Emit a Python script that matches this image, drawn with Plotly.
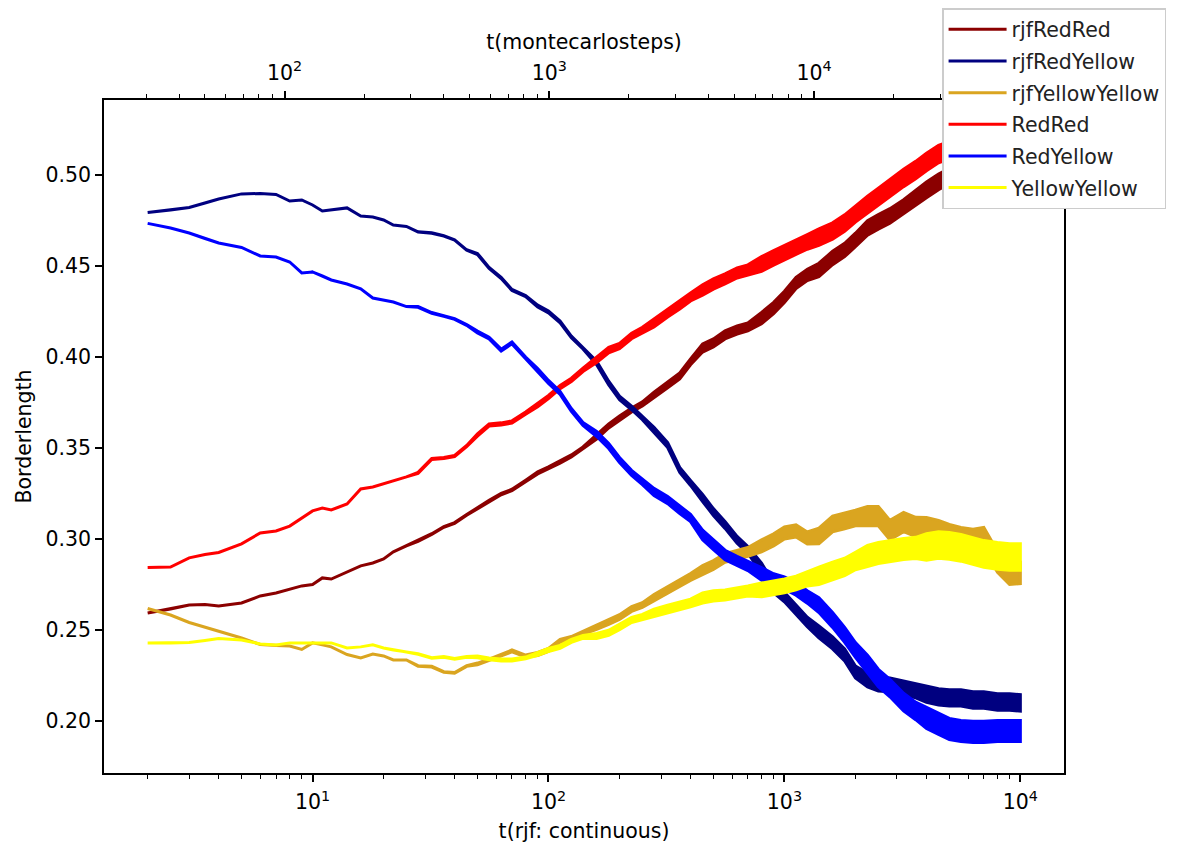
import plotly.graph_objects as go

# time grid (rjf continuous time), read positions along the log x axis
t = [2, 2.5, 3, 3.5, 4, 5, 6, 7, 8, 9, 10, 11, 12, 14, 16, 18, 20, 22, 25, 28,
     32, 36, 40, 45, 50, 56, 63, 70, 80, 90, 100, 112, 125, 140, 160, 180, 200,
     225, 250, 280, 320, 360, 400, 450, 500, 560, 630, 700, 800, 900, 1000, 1120,
     1250, 1400, 1600, 1800, 2000, 2250, 2500, 2800, 3200, 3600, 4000, 4500, 5000,
     5600, 6300, 7000, 8000, 9000, 10000]

# series centres (Borderlength)
rjfRedRed = [0.2593, 0.2615, 0.2637, 0.2640, 0.2632, 0.2648, 0.2687, 0.2703, 0.2725, 0.2742,
             0.2750, 0.2786, 0.2780, 0.2819, 0.2852, 0.2868, 0.2890, 0.2929, 0.2962, 0.2989,
             0.3027, 0.3066, 0.3088, 0.3132, 0.3170, 0.3209, 0.3247, 0.3269, 0.3319, 0.3363,
             0.3390, 0.3423, 0.3456, 0.3500, 0.3560, 0.3621, 0.3665, 0.3709, 0.3742, 0.3791,
             0.3846, 0.3896, 0.3973, 0.4049, 0.4077, 0.4121, 0.4148, 0.4165, 0.4214, 0.4269,
             0.4330, 0.4407, 0.4451, 0.4478, 0.4544, 0.4588, 0.4643, 0.4709, 0.4742, 0.4775,
             0.4824, 0.4874, 0.4918, 0.4962, 0.4995, 0.5027, 0.5055, 0.5077, 0.5099, 0.5115,
             0.5126]
rjfRedYellow = [0.4794, 0.4808, 0.4821, 0.4846, 0.4868, 0.4896, 0.4898, 0.4893, 0.4857, 0.4863,
                0.4835, 0.4802, 0.4808, 0.4819, 0.4775, 0.4769, 0.4753, 0.4725, 0.4717, 0.4687,
                0.4681, 0.4665, 0.4643, 0.4588, 0.4566, 0.4489, 0.4434, 0.4368, 0.4335, 0.4280,
                0.4247, 0.4192, 0.4110, 0.4049, 0.3967, 0.3857, 0.3775, 0.3720, 0.3665, 0.3599,
                0.3516, 0.3379, 0.3308, 0.3225, 0.3148, 0.3077, 0.2995, 0.2940, 0.2841, 0.2731,
                0.2681, 0.2610, 0.2544, 0.2489, 0.2429, 0.2363, 0.2269, 0.2225, 0.2203, 0.2198,
                0.2181, 0.2165, 0.2148, 0.2132, 0.2127, 0.2127, 0.2115, 0.2115, 0.2104, 0.2104,
                0.2099]
rjfYellowYellow = [0.2618, 0.2582, 0.2541, 0.2516, 0.2495, 0.2456, 0.2420, 0.2415, 0.2412, 0.2393,
                   0.2429, 0.2418, 0.2407, 0.2365, 0.2346, 0.2368, 0.2357, 0.2335, 0.2335, 0.2302,
                   0.2298, 0.2269, 0.2264, 0.2302, 0.2313, 0.2335, 0.2363, 0.2385, 0.2357, 0.2368,
                   0.2390, 0.2440, 0.2456, 0.2484, 0.2516, 0.2544, 0.2571, 0.2615, 0.2637, 0.2676,
                   0.2720, 0.2758, 0.2791, 0.2830, 0.2857, 0.2896, 0.2912, 0.2929, 0.2962, 0.2995,
                   0.3033, 0.3044, 0.3005, 0.3016, 0.3082, 0.3099, 0.3115, 0.3126, 0.3126, 0.3049,
                   0.3093, 0.3066, 0.3060, 0.3044, 0.3022, 0.3005, 0.2995, 0.3005, 0.2874, 0.2808,
                   0.2813]
RedRed = [0.2843, 0.2846, 0.2896, 0.2915, 0.2926, 0.2973, 0.3033, 0.3044, 0.3071, 0.3115,
          0.3154, 0.3170, 0.3159, 0.3192, 0.3275, 0.3286, 0.3302, 0.3319, 0.3341, 0.3363,
          0.3440, 0.3445, 0.3456, 0.3511, 0.3571, 0.3626, 0.3632, 0.3643, 0.3692, 0.3736,
          0.3780, 0.3835, 0.3874, 0.3929, 0.3984, 0.4038, 0.4060, 0.4115, 0.4148, 0.4187,
          0.4242, 0.4286, 0.4330, 0.4368, 0.4401, 0.4429, 0.4462, 0.4478, 0.4511, 0.4544,
          0.4571, 0.4604, 0.4632, 0.4659, 0.4692, 0.4736, 0.4786, 0.4835, 0.4879, 0.4929,
          0.4984, 0.5027, 0.5071, 0.5115, 0.5137, 0.5154, 0.5170, 0.5181, 0.5192, 0.5198,
          0.5203]
RedYellow = [0.4734, 0.4709, 0.4681, 0.4651, 0.4626, 0.4602, 0.4555, 0.4549, 0.4522, 0.4462,
             0.4467, 0.4445, 0.4423, 0.4401, 0.4374, 0.4324, 0.4313, 0.4302, 0.4277, 0.4275,
             0.4242, 0.4225, 0.4209, 0.4176, 0.4137, 0.4104, 0.4038, 0.4077, 0.3995, 0.3929,
             0.3863, 0.3802, 0.3709, 0.3632, 0.3577, 0.3511, 0.3434, 0.3363, 0.3313, 0.3258,
             0.3214, 0.3159, 0.3115, 0.3022, 0.2967, 0.2912, 0.2879, 0.2852, 0.2808, 0.2775,
             0.2758, 0.2725, 0.2681, 0.2637, 0.2555, 0.2473, 0.2390, 0.2313, 0.2236, 0.2181,
             0.2104, 0.2055, 0.2017, 0.1984, 0.1956, 0.1945, 0.1940, 0.1940, 0.1945, 0.1945,
             0.1945]
YellowYellow = [0.2429, 0.2429, 0.2431, 0.2442, 0.2453, 0.2445, 0.2423, 0.2418, 0.2429, 0.2429,
                0.2429, 0.2429, 0.2429, 0.2401, 0.2407, 0.2418, 0.2401, 0.2390, 0.2379, 0.2368,
                0.2346, 0.2352, 0.2341, 0.2352, 0.2352, 0.2341, 0.2335, 0.2335, 0.2346, 0.2368,
                0.2390, 0.2407, 0.2440, 0.2462, 0.2467, 0.2484, 0.2516, 0.2555, 0.2571, 0.2593,
                0.2615, 0.2632, 0.2648, 0.2676, 0.2687, 0.2692, 0.2703, 0.2714, 0.2720, 0.2731,
                0.2742, 0.2758, 0.2780, 0.2797, 0.2824, 0.2846, 0.2879, 0.2907, 0.2923, 0.2934,
                0.2945, 0.2951, 0.2956, 0.2967, 0.2962, 0.2951, 0.2934, 0.2918, 0.2907, 0.2901,
                0.2901]

# half-width of the noisy band around each centre
rjfRedRed_spread = [0, 0, 0, 0, 0, 0, 0, 0, 0, 0, 0, 0, 0, 0, 0, 0, 0, 0, 0,
                    0.0002, 0.0002, 0.0002, 0.0002, 0.0002, 0.0004, 0.0004, 0.0004, 0.0004, 0.0004,
                    0.0006, 0.0006, 0.0006, 0.0006, 0.0006, 0.0011, 0.0011, 0.0011, 0.0011, 0.0011,
                    0.0016, 0.0016, 0.0016, 0.0016, 0.0022, 0.0022, 0.0022, 0.0022, 0.0022,
                    0.0031, 0.0031, 0.0031, 0.0031, 0.0031, 0.0037, 0.0037, 0.0037, 0.0037,
                    0.0040, 0.0040, 0.0040, 0.0040, 0.0040,
                    0.0043, 0.0043, 0.0043, 0.0043, 0.0043, 0.0043, 0.0043, 0.0043, 0.0043]
rjfRedYellow_spread = [0, 0, 0, 0, 0, 0, 0, 0, 0, 0, 0, 0, 0, 0, 0, 0, 0, 0, 0,
                       0.0001, 0.0001, 0.0001, 0.0001, 0.0001, 0.0003, 0.0003, 0.0003, 0.0003, 0.0003,
                       0.0005, 0.0005, 0.0005, 0.0005, 0.0005, 0.0010, 0.0010, 0.0010, 0.0010, 0.0010,
                       0.0014, 0.0014, 0.0014, 0.0014, 0.0019, 0.0019, 0.0019, 0.0019, 0.0019,
                       0.0026, 0.0026, 0.0026, 0.0026, 0.0026, 0.0033, 0.0033, 0.0033, 0.0033,
                       0.0038, 0.0038, 0.0038, 0.0038, 0.0038,
                       0.0045, 0.0045, 0.0045, 0.0045, 0.0045, 0.0045, 0.0045, 0.0045, 0.0045]
rjfYellowYellow_spread = [0, 0, 0, 0, 0, 0, 0, 0, 0, 0, 0, 0, 0, 0, 0, 0, 0, 0, 0,
                          0.0002, 0.0002, 0.0002, 0.0002, 0.0002, 0.0005, 0.0005, 0.0005, 0.0005, 0.0005,
                          0.0008, 0.0008, 0.0008, 0.0008, 0.0008, 0.0013, 0.0013, 0.0013, 0.0013, 0.0013,
                          0.0019, 0.0019, 0.0019, 0.0019, 0.0024, 0.0024, 0.0024, 0.0024, 0.0024,
                          0.0033, 0.0033, 0.0033, 0.0033, 0.0033, 0.0043, 0.0043, 0.0043, 0.0043,
                          0.0053, 0.0053, 0.0053, 0.0053, 0.0053,
                          0.0058, 0.0058, 0.0058, 0.0058, 0.0058, 0.0058, 0.0058, 0.0058, 0.0058]
RedRed_spread = [0, 0, 0, 0, 0, 0, 0, 0, 0, 0, 0, 0, 0, 0, 0, 0, 0, 0, 0,
                 0.0003, 0.0003, 0.0003, 0.0003, 0.0003, 0.0006, 0.0006, 0.0006, 0.0006, 0.0006,
                 0.0009, 0.0009, 0.0009, 0.0009, 0.0009, 0.0015, 0.0015, 0.0015, 0.0015, 0.0015,
                 0.0022, 0.0022, 0.0022, 0.0022, 0.0028, 0.0028, 0.0028, 0.0028, 0.0028,
                 0.0040, 0.0040, 0.0040, 0.0040, 0.0040, 0.0045, 0.0045, 0.0045, 0.0045,
                 0.0048, 0.0048, 0.0048, 0.0048, 0.0048,
                 0.0048, 0.0048, 0.0048, 0.0048, 0.0048, 0.0048, 0.0048, 0.0048, 0.0048]
RedYellow_spread = [0, 0, 0, 0, 0, 0, 0, 0, 0, 0, 0, 0, 0, 0, 0, 0, 0, 0, 0,
                    0.0002, 0.0002, 0.0002, 0.0002, 0.0002, 0.0005, 0.0005, 0.0005, 0.0005, 0.0005,
                    0.0008, 0.0008, 0.0008, 0.0008, 0.0008, 0.0014, 0.0014, 0.0014, 0.0014, 0.0014,
                    0.0020, 0.0020, 0.0020, 0.0020, 0.0026, 0.0026, 0.0026, 0.0026, 0.0026,
                    0.0034, 0.0034, 0.0034, 0.0034, 0.0034, 0.0041, 0.0041, 0.0041, 0.0041,
                    0.0048, 0.0048, 0.0048, 0.0048, 0.0048,
                    0.0058, 0.0058, 0.0058, 0.0058, 0.0058, 0.0058, 0.0058, 0.0058, 0.0058]
YellowYellow_spread = [0, 0, 0, 0, 0, 0, 0, 0, 0, 0, 0, 0, 0, 0, 0, 0, 0, 0, 0,
                       0.0002, 0.0002, 0.0002, 0.0002, 0.0002, 0.0005, 0.0005, 0.0005, 0.0005, 0.0005,
                       0.0008, 0.0008, 0.0008, 0.0008, 0.0008, 0.0014, 0.0014, 0.0014, 0.0014, 0.0014,
                       0.0021, 0.0021, 0.0021, 0.0021, 0.0028, 0.0028, 0.0028, 0.0028, 0.0028,
                       0.0038, 0.0038, 0.0038, 0.0038, 0.0038, 0.0048, 0.0048, 0.0048, 0.0048,
                       0.0058, 0.0058, 0.0058, 0.0058, 0.0058,
                       0.0073, 0.0073, 0.0073, 0.0073, 0.0073, 0.0073, 0.0073, 0.0073, 0.0073]

series_names = ["rjfRedRed", "rjfRedYellow", "rjfYellowYellow", "RedRed", "RedYellow", "YellowYellow"]
series_values = [rjfRedRed, rjfRedYellow, rjfYellowYellow, RedRed, RedYellow, YellowYellow]
series_spread = [rjfRedRed_spread, rjfRedYellow_spread, rjfYellowYellow_spread,
                 RedRed_spread, RedYellow_spread, YellowYellow_spread]
series_colors = ["#8b0000", "#000080", "#daa520", "#ff0000", "#0000ff", "#ffff00"]

x_ticks = [10, 100, 1000, 10000]
x_ticktext = ["10<sup>1</sup>", "10<sup>2</sup>", "10<sup>3</sup>", "10<sup>4</sup>"]
x_minor = [2, 3, 4, 5, 6, 7, 8, 9, 20, 30, 40, 50, 60, 70, 80, 90,
           200, 300, 400, 500, 600, 700, 800, 900, 2000, 3000, 4000, 5000, 6000, 7000, 8000, 9000]
top_ticks = [100, 1000, 10000]
top_ticktext = ["10<sup>2</sup>", "10<sup>3</sup>", "10<sup>4</sup>"]
top_minor = [30, 40, 50, 60, 70, 80, 90, 200, 300, 400, 500, 600, 700, 800, 900,
             2000, 3000, 4000, 5000, 6000, 7000, 8000, 9000, 20000, 30000, 40000, 50000,
             60000, 70000, 80000]
y_ticks = [0.20, 0.25, 0.30, 0.35, 0.40, 0.45, 0.50]

FONT = "DejaVu Sans"
FS = 20.5
fig = go.Figure()
for name, vals, spr, col in zip(series_names, series_values, series_spread, series_colors):
    hi = [v + s for v, s in zip(vals, spr)]
    lo = [v - s for v, s in zip(vals, spr)]
    fig.add_trace(go.Scatter(
        x=t + t[::-1], y=hi + lo[::-1], mode="lines", fill="toself",
        fillcolor=col, line=dict(color=col, width=3), showlegend=False,
        legendgroup=name, name=name, hoverinfo="skip"))
    fig.add_trace(go.Scatter(
        x=[None], y=[None], mode="lines", line=dict(color=col, width=3),
        name=name, legendgroup=name, showlegend=True))

# empty trace so the top (montecarlo steps) axis is drawn
fig.add_trace(go.Scatter(x=[None], y=[None], xaxis="x2", yaxis="y", showlegend=False,
                         hoverinfo="skip"))

axis_common = dict(showline=True, linecolor="black", linewidth=1.6, showgrid=False,
                   zeroline=False, ticks="outside", ticklen=7, tickwidth=1.6, tickcolor="black",
                   tickfont=dict(family=FONT, size=FS, color="black"))
minor_common = dict(ticks="outside", ticklen=4, tickwidth=1.2, tickcolor="black", showgrid=False)

# page body has an 8px margin: plot area 960x673 placed at (104,100) in the window
fig.update_layout(
    width=1181, height=841,
    margin=dict(l=96, r=125, t=92, b=76, autoexpand=False),
    paper_bgcolor="white", plot_bgcolor="white",
    font=dict(family=FONT, size=FS, color="black"),
    xaxis=dict(type="log", range=[0.116, 4.185], tickvals=x_ticks, ticktext=x_ticktext,
               minor=dict(tickvals=x_minor, **minor_common), ticklabelstandoff=3,
               title=dict(text="t(rjf: continuous)", font=dict(family=FONT, size=FS), standoff=10),
               **axis_common),
    xaxis2=dict(type="log", range=[1.3182, 4.9443], overlaying="x", side="top", anchor="y",
                tickvals=top_ticks, ticktext=top_ticktext, ticklabelstandoff=3,
                minor=dict(tickvals=top_minor, **minor_common),
                title=dict(text="t(montecarlosteps)", font=dict(family=FONT, size=FS), standoff=3),
                **axis_common),
    yaxis=dict(range=[0.1714, 0.5412], tickvals=y_ticks, tickformat=".2f", mirror=True,
               title=dict(text="Borderlength", font=dict(family=FONT, size=FS), standoff=8),
               **axis_common),
    legend=dict(x=0.873, y=1.1367, xanchor="left", yanchor="top", bgcolor="white",
                bordercolor="#cccccc", borderwidth=1.5,
                font=dict(family=FONT, size=FS, color="#222222"),
                traceorder="grouped", tracegroupgap=2, itemwidth=58),
)

fig.write_html("out.html")
